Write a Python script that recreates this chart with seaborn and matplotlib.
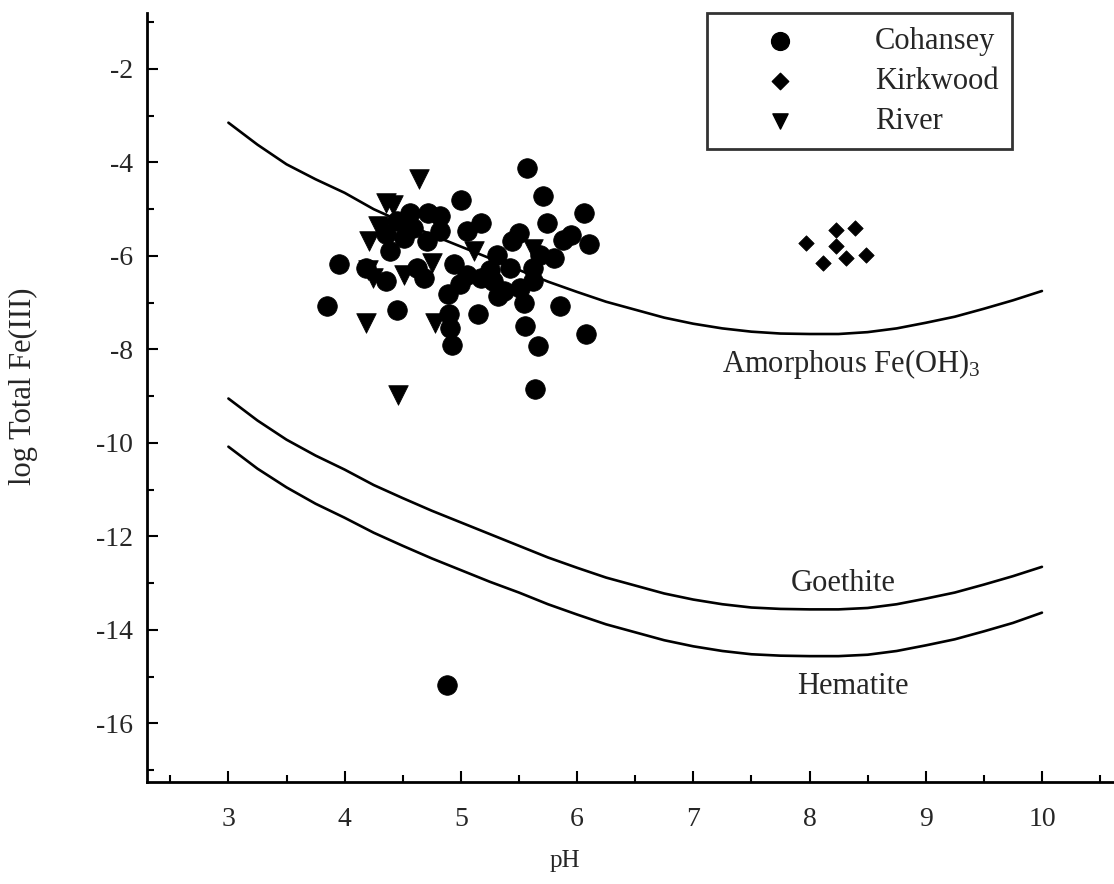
import numpy as np
import pandas as pd
import matplotlib
matplotlib.use("Agg")
import matplotlib.pyplot as plt
import seaborn as sns
from matplotlib.ticker import MultipleLocator, FuncFormatter

# ---------------- data ----------------
curve_ph = [3.0, 3.25, 3.5, 3.75, 4.0, 4.25, 4.5, 4.75, 5.0, 5.25, 5.5, 5.75, 6.0, 6.25, 6.5,
            6.75, 7.0, 7.25, 7.5, 7.75, 8.0, 8.25, 8.5, 8.75, 9.0, 9.25, 9.5, 9.75, 10.0]
amorphous = [-3.15, -3.62, -4.04, -4.36, -4.65, -5.00, -5.28, -5.55, -5.80, -6.05, -6.30, -6.55,
             -6.77, -6.98, -7.15, -7.32, -7.45, -7.55, -7.62, -7.66, -7.67, -7.67, -7.63, -7.55,
             -7.43, -7.30, -7.13, -6.95, -6.75]
goethite = [-9.05, -9.52, -9.93, -10.27, -10.57, -10.90, -11.18, -11.45, -11.70, -11.95, -12.20,
            -12.45, -12.67, -12.88, -13.05, -13.22, -13.35, -13.45, -13.52, -13.55, -13.56, -13.56,
            -13.53, -13.45, -13.33, -13.20, -13.03, -12.85, -12.65]
hematite = [-10.08, -10.55, -10.95, -11.30, -11.60, -11.92, -12.20, -12.47, -12.72, -12.97, -13.20,
            -13.45, -13.67, -13.88, -14.05, -14.22, -14.35, -14.45, -14.52, -14.55, -14.56, -14.56,
            -14.53, -14.45, -14.33, -14.20, -14.03, -13.85, -13.63]

cohansey_ph = [5.57, 5.71, 5.00, 6.06, 6.10, 3.95, 3.85, 4.45, 5.15, 5.85, 6.08, 5.55, 5.66, 4.92,
               4.91, 4.90, 4.89, 5.54, 5.32, 5.64, 4.88,
               4.56, 4.72, 4.82, 5.17, 5.05, 5.50, 5.74, 5.88, 5.44, 5.31, 5.68, 5.80, 5.62, 5.42,
               4.94, 5.05, 5.17, 5.28, 5.37, 5.51, 5.62, 4.99, 4.68, 4.62, 4.36, 4.18, 4.39, 4.51,
               4.59, 4.45, 4.71, 4.36, 4.82, 5.25, 5.95]
cohansey_fe = [-4.11, -4.72, -4.81, -5.08, -5.75, -6.18, -7.07, -7.15, -7.25, -7.07, -7.68, -7.50,
               -7.93, -7.90, -7.54, -7.25, -6.82, -7.00, -6.86, -8.85, -15.18,
               -5.08, -5.08, -5.15, -5.29, -5.47, -5.50, -5.29, -5.65, -5.68, -5.97, -5.97, -6.04,
               -6.25, -6.25, -6.18, -6.40, -6.47, -6.54, -6.75, -6.68, -6.54, -6.61, -6.47, -6.25,
               -6.54, -6.25, -5.90, -5.61, -5.40, -5.25, -5.68, -5.54, -5.47, -6.30, -5.55]

kirkwood_ph = [7.97, 8.23, 8.39, 8.23, 8.12, 8.31, 8.49]
kirkwood_fe = [-5.72, -5.45, -5.40, -5.79, -6.15, -6.04, -5.98]

river_ph = [4.64, 4.42, 4.21, 4.31, 4.18, 4.78, 4.46, 4.24, 4.51, 5.11, 4.29, 4.36, 4.75, 5.62, 4.20]
river_fe = [-4.36, -4.90, -5.68, -5.40, -7.43, -7.43, -8.97, -6.47, -6.40, -5.90, -5.36, -4.86,
            -6.15, -5.85, -6.30]

labels = ["Cohansey", "Kirkwood", "River"]
curve_labels = ["Amorphous Fe(OH)$_3$", "Goethite", "Hematite"]
x_ticks = [3, 4, 5, 6, 7, 8, 9, 10]
y_ticks = [-2, -4, -6, -8, -10, -12, -14, -16]

# ---------------- style ----------------
sns.set_theme(style="white")
plt.rcParams["font.family"] = ["Liberation Serif", "DejaVu Serif"]
plt.rcParams["mathtext.fontset"] = "custom"
plt.rcParams["mathtext.rm"] = "Liberation Serif"
plt.rcParams["mathtext.it"] = "Liberation Serif"

fig = plt.figure(figsize=(11.14, 8.84), dpi=100)
ax = fig.add_axes([0.132, 0.1155, 0.868, 0.870])

curves = pd.DataFrame({"pH": curve_ph * 3,
                       "fe": amorphous + goethite + hematite,
                       "curve": [curve_labels[0]] * len(curve_ph) + [curve_labels[1]] * len(curve_ph)
                                + [curve_labels[2]] * len(curve_ph)})
for name in curve_labels:
    sub = curves[curves["curve"] == name]
    sns.lineplot(data=sub, x="pH", y="fe", color="black", lw=1.9, ax=ax, legend=False,
                 sort=False, estimator=None)

pts = pd.DataFrame({
    "pH": cohansey_ph + kirkwood_ph + river_ph,
    "fe": cohansey_fe + kirkwood_fe + river_fe,
    "src": [labels[0]] * len(cohansey_ph) + [labels[1]] * len(kirkwood_ph) + [labels[2]] * len(river_ph),
})
marker_map = {"Cohansey": "o", "Kirkwood": "D", "River": "v"}
size_map = {"Cohansey": 200, "Kirkwood": 62, "River": 200}
leg_size = {"Cohansey": 165, "Kirkwood": 70, "River": 120}
handles = []
for name in labels:
    sub = pts[pts["src"] == name]
    sns.scatterplot(data=sub, x="pH", y="fe", marker=marker_map[name], s=size_map[name],
                    color="black", edgecolor="black", linewidth=0.5, ax=ax, legend=False, zorder=3)
    h = ax.scatter([], [], marker=marker_map[name], s=leg_size[name], color="black")
    handles.append(h)

# annotations
ax.text(8.36, -8.32, curve_labels[0], ha="center", va="center", fontsize=22)
ax.text(8.29, -13.0, curve_labels[1], ha="center", va="center", fontsize=22)
ax.text(8.37, -15.2, curve_labels[2], ha="center", va="center", fontsize=22)

# axes
ax.set_xlim(2.3, 10.62)
ax.set_ylim(-17.25, -0.8)
ax.set_xticks(x_ticks)
ax.set_yticks(y_ticks)
ax.xaxis.set_minor_locator(MultipleLocator(0.5))
ax.yaxis.set_minor_locator(MultipleLocator(1))
ax.yaxis.set_major_formatter(FuncFormatter(lambda v, p: ("-" if v < 0 else "") + f"{abs(v):g}"))
ax.tick_params(which="both", direction="in", color="black", width=1.5, labelsize=20,
               bottom=True, left=True, top=False, right=False)
ax.tick_params(which="major", length=8)
ax.tick_params(which="minor", length=5)
ax.tick_params(axis="y", which="major", pad=10)
ax.tick_params(axis="x", which="major", pad=18)
for s in ["top", "right"]:
    ax.spines[s].set_visible(False)
for s in ["left", "bottom"]:
    ax.spines[s].set_color("black")
    ax.spines[s].set_linewidth(2.0)

ax.set_xlabel("pH", fontsize=18)
ax.set_ylabel("log Total Fe(III)", fontsize=22)
ax.xaxis.set_label_coords(0.432, -0.088)
ax.yaxis.set_label_coords(-0.113, 0.515)

leg = ax.legend(handles, labels, loc="upper left", bbox_to_anchor=(0.579, 1.0),
                fontsize=22, frameon=True, fancybox=False, edgecolor="black",
                handletextpad=1.15, borderpad=0.45, labelspacing=0.36, handlelength=3.9,
                borderaxespad=0.0)
leg.get_frame().set_linewidth(2.0)

fig.savefig("out.png", dpi=100, facecolor="white")
